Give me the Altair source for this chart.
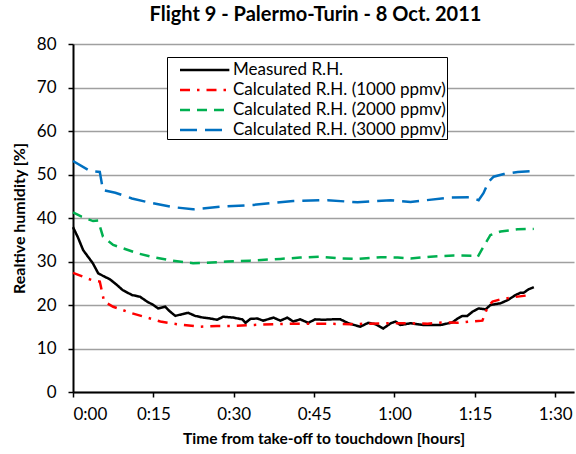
import altair as alt
import pandas as pd

FONT = "Lato"

series_names = [
    "Measured R.H.",
    "Calculated R.H. (1000 ppmv)",
    "Calculated R.H. (2000 ppmv)",
    "Calculated R.H. (3000 ppmv)",
]
series_colors = ["#000000", "#FF0000", "#00B050", "#0070C0"]
series_dashes = [[1, 0], [10, 7, 2.5, 7], [10, 7], [17, 8]]

x_ticks = [0, 15, 30, 45, 60, 75, 90]
y_ticks = [0, 10, 20, 30, 40, 50, 60, 70, 80]

# time in minutes from take-off
t_meas = [0, 0.9, 1.9, 2.8, 3.7, 4.7, 5.6, 6.9, 8.2, 9.3, 11, 12.5, 13.8, 15, 15.9,
          17.2, 18.1, 19.1, 20.4, 21.5, 22.8, 24.3, 25.6, 26.9, 28, 29.9, 31.6, 32.2,
          33.1, 34.4, 35.5, 37.4, 38.7, 40, 41.1, 42.4, 43.9, 45.2, 46.7, 48.4, 49.9,
          51.4, 53.6, 55.1, 56.4, 57.9, 59.3, 60.2, 61.1, 63, 65.4, 68.6, 70.8, 71.8,
          72.7, 73.6, 74.6, 75.7, 77, 77.9, 79.8, 81.1, 82.6, 83.5, 84.1, 85, 86]
rh_meas = [37.9, 35.6, 32.6, 31.1, 29.6, 27.3, 26.7, 25.9, 24.6, 23.4, 22.3, 21.9, 20.8,
           20.0, 19.2, 19.6, 18.5, 17.5, 17.9, 18.2, 17.5, 17.1, 16.9, 16.6, 17.3, 17.1,
           16.7, 15.9, 16.8, 16.9, 16.4, 17.1, 16.4, 17.1, 16.2, 16.7, 15.9, 16.7, 16.6,
           16.7, 16.7, 15.8, 15.0, 15.9, 15.6, 14.6, 15.8, 16.2, 15.4, 15.8, 15.4, 15.4,
           16.0, 16.9, 17.5, 17.5, 18.5, 19.2, 19.0, 20.0, 20.4, 21.1, 22.3, 22.8, 22.8,
           23.6, 24.1]

t_1000 = [0, 3.55, 5.0, 5.8, 7.5, 11, 14.4, 16.3, 19.4, 23.7, 26.9, 29.9, 33.6, 35.5,
          41.1, 46.7, 51.8, 57.9, 63, 66.2, 69.2, 71.8, 74.2, 76.4, 77.4, 78.3, 79.8,
          82.2, 85.4]
rh_1000 = [27.4, 25.7, 25.4, 20.8, 19.6, 18.1, 16.9, 16.2, 15.6, 15.0, 15.2, 15.2, 15.4,
           15.5, 15.7, 15.7, 15.6, 15.8, 15.8, 15.7, 16.0, 15.9, 16.2, 16.4, 19.6, 20.8,
           21.3, 21.8, 22.3]

t_2000 = [0, 1.6, 3.75, 4.7, 5.6, 7.5, 12, 15, 18, 22.4, 25, 28.8, 33, 38.7, 42.4, 46.2,
          49.9, 53.1, 57.4, 60.6, 63, 66.7, 71, 74.8, 75.5, 76.6, 77.9, 79.8, 83, 86]
rh_2000 = [41.3, 40.3, 39.3, 39.4, 35.7, 33.8, 31.9, 31.0, 30.3, 29.6, 29.7, 30.0, 30.2,
           30.6, 30.9, 31.1, 30.7, 30.6, 31.0, 30.9, 30.7, 31.1, 31.4, 31.3, 31.0, 33.4,
           36.1, 36.9, 37.4, 37.5]

t_3000 = [0, 3.2, 5.0, 5.6, 7.9, 11, 14.4, 18.7, 22.4, 27.5, 33.6, 41.1, 47.5, 53.1,
          59.3, 63, 70.5, 74.2, 75.7, 76.6, 77.6, 78.5, 80.4, 83, 86]
rh_3000 = [53.1, 50.8, 50.6, 46.4, 45.8, 44.5, 43.5, 42.5, 42.0, 42.6, 43.0, 43.9, 44.1,
           43.6, 44.1, 43.7, 44.7, 44.8, 44.1, 45.7, 48.4, 49.5, 50.1, 50.6, 50.8]

rows = []
for name, ts, vs in zip(series_names,
                        [t_meas, t_1000, t_2000, t_3000],
                        [rh_meas, rh_1000, rh_2000, rh_3000]):
    for t, v in zip(ts, vs):
        rows.append({"series": name, "t": t, "rh": v})
df = pd.DataFrame(rows)

legend = alt.Legend(
    orient="none", legendX=94, legendY=13, title=None,
    symbolType="M0,0H4.7", symbolSize=441, symbolStrokeWidth=2.5,
    labelFont=FONT, labelFontSize=17, labelColor="black", labelLimit=400,
    labelOffset=41, strokeColor="black", fillColor="white",
    padding=1, rowPadding=0,
)

label_expr = ("floor(datum.value/60) + ':' + (datum.value % 60 < 10 ? '0' : '') "
              "+ (datum.value % 60)")

chart = alt.Chart(df).mark_line(strokeWidth=2.5).encode(
    x=alt.X("t:Q",
            scale=alt.Scale(domain=[0, 93.5], nice=False, zero=False),
            axis=alt.Axis(values=x_ticks, labelExpr=label_expr, grid=False,
                          title="Time from take-off to touchdown [hours]",
                          domainColor="black", domainWidth=2,
                          tickColor="black", tickWidth=1.5, tickSize=5,
                          labelFont=FONT, labelFontSize=17, labelColor="black",
                          labelPadding=9,
                          titleFont=FONT, titleFontSize=15.5, titleFontWeight="bold",
                          titleColor="black", titlePadding=9)),
    y=alt.Y("rh:Q",
            scale=alt.Scale(domain=[0, 80], nice=False),
            axis=alt.Axis(values=y_ticks, grid=True, gridColor="#a0a0a0", gridWidth=1.5,
                          title="Realtive humidity [%]",
                          domainColor="black", domainWidth=2,
                          tickColor="black", tickWidth=1.5, tickSize=5,
                          labelFont=FONT, labelFontSize=17, labelColor="black",
                          labelPadding=12,
                          titleFont=FONT, titleFontSize=16, titleFontWeight="bold",
                          titleColor="black", titleX=-54, titleY=174,
                          titleAlign="center", titleBaseline="middle", titleAngle=270)),
    color=alt.Color("series:N",
                    scale=alt.Scale(domain=series_names, range=series_colors),
                    legend=legend),
    strokeDash=alt.StrokeDash("series:N",
                              scale=alt.Scale(domain=series_names, range=series_dashes),
                              legend=legend),
).properties(
    width=501, height=348,
    title=alt.Title("Flight 9 - Palermo-Turin - 8 Oct. 2011", font=FONT, fontSize=20,
                    fontWeight="bold", color="black", anchor="middle", offset=10,
                    dx=-8),
    padding={"left": 73, "top": 44, "right": 2, "bottom": 62},
    autosize="none",
).configure_view(stroke=None)

chart.save("out.html", embed_options={"renderer": "svg", "actions": False})
